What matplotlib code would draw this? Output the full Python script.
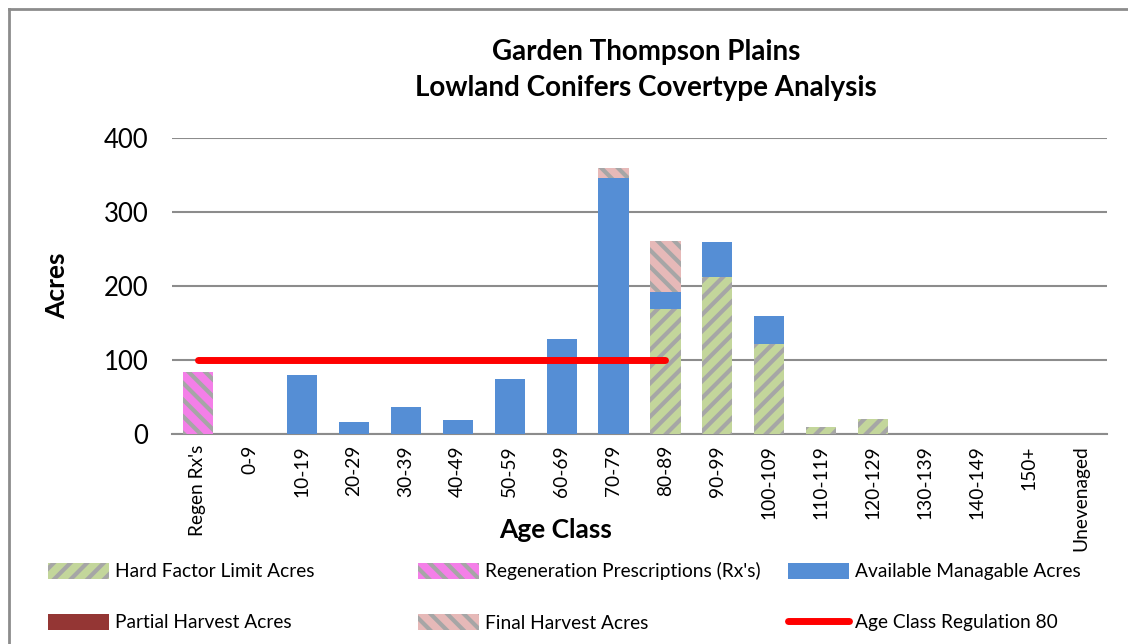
import numpy as np
import matplotlib
matplotlib.use("Agg")
import matplotlib.pyplot as plt
from matplotlib.lines import Line2D
from matplotlib.patches import Patch

plt.rcParams['font.family'] = ['Lato', 'DejaVu Sans']
plt.rcParams['hatch.linewidth'] = 3.0

categories = ["Regen Rx's", "0-9", "10-19", "20-29", "30-39", "40-49", "50-59",
              "60-69", "70-79", "80-89", "90-99", "100-109", "110-119", "120-129",
              "130-139", "140-149", "150+", "Unevenaged"]

hard_factor = [0, 0, 0, 0, 0, 0, 0, 0, 0, 169, 212, 122, 9, 20, 0, 0, 0, 0]
regen_rx = [84, 0, 0, 0, 0, 0, 0, 0, 0, 0, 0, 0, 0, 0, 0, 0, 0, 0]
available = [0, 0, 80, 16, 36, 19, 74, 128, 346, 23, 47, 38, 0, 0, 0, 0, 0, 0]
partial = [0] * 18
final_harvest = [0, 0, 0, 0, 0, 0, 0, 0, 13, 69, 0, 0, 0, 0, 0, 0, 0, 0]
age_reg = [100, 100, 100, 100, 100, 100, 100, 100, 100, 100,
           None, None, None, None, None, None, None, None]

fig = plt.figure(figsize=(11.28, 6.44), dpi=100)
ax = fig.add_axes([172 / 1128, 1 - 434 / 644, (1107 - 172) / 1128, (434 - 138) / 644])

x = np.arange(len(categories))
w = 0.58
hatch_gray = '#a6a6a6'

b = np.zeros(len(x))
ax.bar(x, hard_factor, w, bottom=b, color='#c3d69b', edgecolor=hatch_gray,
       linewidth=0, hatch='//', zorder=3)
b += hard_factor
ax.bar(x, regen_rx, w, bottom=b, color='#f47fe8', edgecolor=hatch_gray,
       linewidth=0, hatch='\\\\', zorder=3)
b += regen_rx
ax.bar(x, available, w, bottom=b, color='#558ed5', linewidth=0, zorder=3)
b += available
ax.bar(x, partial, w, bottom=b, color='#943634', linewidth=0, zorder=3)
b += partial
ax.bar(x, final_harvest, w, bottom=b, color='#e6b9b8', edgecolor=hatch_gray,
       linewidth=0, hatch='\\\\', zorder=3)

reg = np.array([np.nan if v is None else v for v in age_reg], dtype=float)
ax.plot(x, reg, color='#ff0000', lw=5, solid_capstyle='round', zorder=4)

ax.set_xlim(-0.5, len(x) - 0.5)
ax.set_ylim(0, 400)
ax.set_yticks([0, 100, 200, 300, 400])
ax.yaxis.grid(True, color='#8c8c8c', lw=1.5, zorder=0)
for s in ['top', 'right', 'left']:
    ax.spines[s].set_visible(False)
ax.spines['bottom'].set_color('#8c8c8c')
ax.spines['bottom'].set_linewidth(1.5)
ax.tick_params(axis='both', length=0)
ax.tick_params(axis='y', labelsize=18.5, pad=17)
ax.set_xticks(x)
ax.set_xticklabels(categories, rotation=90, fontsize=13.8)
ax.tick_params(axis='x', pad=8)

ax.set_ylabel('Acres', fontsize=19, fontweight='bold', va='center')
ax.yaxis.set_label_coords((57 - 172) / 935, 0.5)
ax.set_xlabel('Age Class', fontsize=19, fontweight='bold')
ax.xaxis.set_label_coords((556 - 172) / 935, (434 - 530) / 296)
ax.xaxis.label.set_va('center')

fig.text(646 / 1128, 1 - 70 / 644,
         'Garden Thompson Plains\nLowland Conifers Covertype Analysis',
         ha='center', va='center', fontsize=20, fontweight='bold', linespacing=1.5)

# outer chart frame
fig.add_artist(Line2D([9 / 1128, 9 / 1128], [0, 1 - 9 / 644], transform=fig.transFigure,
                      color='#8c8c8c', lw=2))
fig.add_artist(Line2D([9 / 1128, 1], [1 - 9 / 644, 1 - 9 / 644], transform=fig.transFigure,
                      color='#8c8c8c', lw=2))

columns = [
    (48, [Patch(facecolor='#c3d69b', edgecolor=hatch_gray, linewidth=0, hatch='//', label='Hard Factor Limit Acres'),
          Patch(facecolor='#943634', linewidth=0, label='Partial Harvest Acres')]),
    (418, [Patch(facecolor='#f47fe8', edgecolor=hatch_gray, linewidth=0, hatch='\\\\', label="Regeneration Prescriptions (Rx's)"),
           Patch(facecolor='#e6b9b8', edgecolor=hatch_gray, linewidth=0, hatch='\\\\', label='Final Harvest Acres')]),
    (788, [Patch(facecolor='#558ed5', linewidth=0, label='Available Managable Acres'),
           Line2D([0], [0], color='#ff0000', lw=5, solid_capstyle='round', label='Age Class Regulation 80')]),
]
for xpos, hs in columns:
    leg = fig.legend(handles=hs, ncol=1, loc='center left',
                     bbox_to_anchor=(xpos / 1128, 1 - 597 / 644), borderaxespad=0,
                     borderpad=0, frameon=False, fontsize=13.8, handlelength=3.2,
                     handleheight=0.9, handletextpad=0.3, labelspacing=1.75)

fig.savefig('out.png', dpi=100)
